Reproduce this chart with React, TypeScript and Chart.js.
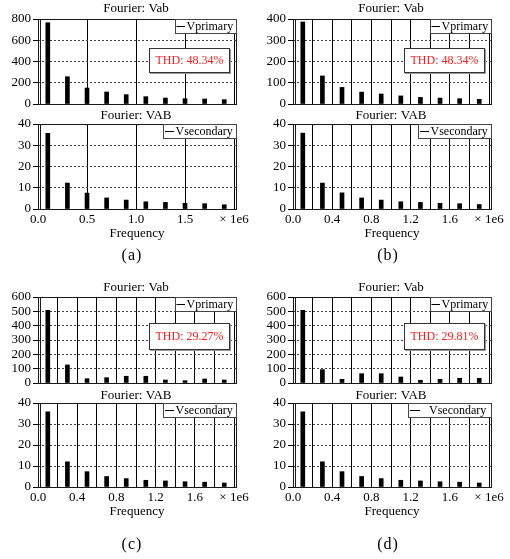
import React, { useEffect, useRef } from 'react';
import { Chart, registerables } from 'chart.js';

Chart.register(...registerables);

const FONT = '"Liberation Serif", "Times New Roman", serif';

// harmonic frequencies (Hz)
const FREQ = [0.1e6, 0.3e6, 0.5e6, 0.7e6, 0.9e6, 1.1e6, 1.3e6, 1.5e6, 1.7e6, 1.9e6];

// panel (a)
const A_PRIMARY = [765, 257, 150, 113, 88, 69, 56, 50, 47, 41];
const A_SECONDARY = [35.6, 12.2, 7.5, 5.2, 4.2, 3.4, 3.1, 2.7, 2.5, 2.0];
// panel (b)
const B_PRIMARY = [386, 132, 78, 56, 47, 38, 31, 28, 25, 22];
const B_SECONDARY = [35.7, 12.2, 7.6, 5.2, 4.2, 3.4, 3.1, 2.7, 2.5, 2.1];
// panel (c)
const C_PRIMARY = [507, 126, 30, 37, 47, 47, 21, 16, 28, 21];
const C_SECONDARY = [35.8, 12.0, 7.3, 5.0, 4.0, 3.2, 2.9, 2.5, 2.3, 1.9];
// panel (d)
const D_PRIMARY = [507, 93, 26, 65, 65, 42, 19, 26, 33, 33];
const D_SECONDARY = [35.8, 12.0, 7.3, 5.0, 4.0, 3.2, 2.9, 2.5, 2.3, 1.9];

// ticks
const X_TICKS_A = [0, 0.5e6, 1.0e6, 1.5e6, 2.0e6];
const X_LABELS_A = [0, 0.5e6, 1.0e6, 1.5e6];
const X_TICKS_FINE = [0, 0.2e6, 0.4e6, 0.6e6, 0.8e6, 1.0e6, 1.2e6, 1.4e6, 1.6e6, 1.8e6, 2.0e6];
const X_LABELS_FINE = [0, 0.4e6, 0.8e6, 1.2e6, 1.6e6];
const X_UNIT_TICK = 2.0e6;
const X_UNIT_LABEL = '× 1e6';
const X_MAX = 2.02e6;

const Y_TICKS_A = [0, 200, 400, 600, 800];
const Y_TICKS_B = [0, 100, 200, 300, 400];
const Y_TICKS_CD = [0, 100, 200, 300, 400, 500, 600];
const Y_TICKS_SEC = [0, 10, 20, 30, 40];

const TITLE_PRI = 'Fourier: Vab';
const TITLE_SEC = 'Fourier: VAB';
const LEGEND_PRI = 'Vprimary';
const LEGEND_SEC = 'Vsecondary';
const X_TITLE = 'Frequency';
const THD = ['THD: 48.34%', 'THD: 48.34%', 'THD: 29.27%', 'THD: 29.81%'];
const CAPTIONS = ['(a)', '(b)', '(c)', '(d)'];

type Sub = {
  l: number; t: number; r: number; b: number;
  values: number[]; yTicks: number[];
  xTicks: number[]; xLabels: number[]; showX: boolean;
  title: string; titleBase: number;
  legend: string; legendW: number; lineFrom: number; lineTo: number; textDx: number;
  thd?: { text: string; dx: number; dy: number; w: number; h: number };
  caption?: { text: string; x: number; base: number };
  label: string;
};

const W = 510;
const H = 559;
const Y_W = 34;
const X_H = 32;

function buildSubs(): Sub[] {
  const cols = [{ l: 38, r: 236 }, { l: 293, r: 491 }];
  const rows = [
    { pt: 19, pb: 104, st: 124, sb: 209, ptb: 12, stb: 119.3, cap: 259.5, thdDy: 29, thdH: 24 },
    { pt: 297, pb: 383, st: 403, sb: 487, ptb: 291.3, stb: 399, cap: 549, thdDy: 26, thdH: 26 },
  ];
  const prim = [A_PRIMARY, B_PRIMARY, C_PRIMARY, D_PRIMARY];
  const sec = [A_SECONDARY, B_SECONDARY, C_SECONDARY, D_SECONDARY];
  const yPri = [Y_TICKS_A, Y_TICKS_B, Y_TICKS_CD, Y_TICKS_CD];
  const capX = [132, 388, 132, 388];
  const subs: Sub[] = [];
  for (let i = 0; i < 4; i++) {
    const c = cols[i % 2];
    const rw = rows[Math.floor(i / 2)];
    const fine = i !== 0;
    const xTicks = fine ? X_TICKS_FINE : X_TICKS_A;
    const xLabels = fine ? X_LABELS_FINE : X_LABELS_A;
    subs.push({
      l: c.l, r: c.r, t: rw.pt, b: rw.pb,
      values: prim[i], yTicks: yPri[i], xTicks, xLabels, showX: false,
      title: TITLE_PRI, titleBase: rw.ptb,
      legend: LEGEND_PRI, legendW: 61, lineFrom: 1.5, lineTo: 10, textDx: 11.5,
      thd: { text: THD[i], dx: 87, dy: rw.thdDy, w: 80, h: rw.thdH },
      label: LEGEND_PRI,
    });
    const dWide = i === 3;
    subs.push({
      l: c.l, r: c.r, t: rw.st, b: rw.sb,
      values: sec[i], yTicks: Y_TICKS_SEC, xTicks, xLabels, showX: true,
      title: TITLE_SEC, titleBase: rw.stb,
      legend: LEGEND_SEC,
      legendW: dWide ? 83 : 73,
      lineFrom: 2, lineTo: dWide ? 12 : 11, textDx: dWide ? 21 : 12.5,
      caption: { text: CAPTIONS[i], x: capX[i], base: rw.cap },
      label: LEGEND_SEC,
    });
  }
  return subs;
}

function makeChart(canvas: HTMLCanvasElement, s: Sub) {
  const xH = s.showX ? X_H : 0;
  const yMax = s.yTicks[s.yTicks.length - 1];
  const deco = {
    id: 'deco',
    afterDraw(chart: any) {
      const ctx = chart.ctx as CanvasRenderingContext2D;
      const { left, top, right, bottom } = chart.chartArea;
      ctx.save();
      // frame
      ctx.strokeStyle = '#1a1a1a';
      ctx.lineWidth = 1;
      ctx.setLineDash([]);
      ctx.strokeRect(left + 0.5, top + 0.5, right - left, bottom - top);
      ctx.beginPath();
      ctx.moveTo(left + 2.5, top);
      ctx.lineTo(left + 2.5, bottom);
      ctx.stroke();
      // title
      ctx.fillStyle = '#000';
      ctx.font = `13px ${FONT}`;
      ctx.textAlign = 'center';
      ctx.textBaseline = 'alphabetic';
      ctx.fillText(s.title, (left + right) / 2 - 1, s.titleBase);
      // legend
      const lx = right - s.legendW;
      const ly = top;
      ctx.fillStyle = '#fff';
      ctx.fillRect(lx, ly, s.legendW, 14);
      ctx.strokeStyle = '#444';
      ctx.strokeRect(lx + 0.5, ly + 0.5, s.legendW, 14);
      ctx.strokeStyle = '#000';
      ctx.beginPath();
      ctx.moveTo(lx + s.lineFrom, ly + 7.5);
      ctx.lineTo(lx + s.lineTo, ly + 7.5);
      ctx.stroke();
      ctx.fillStyle = '#000';
      ctx.font = `12px ${FONT}`;
      ctx.textAlign = 'left';
      ctx.fillText(s.legend, lx + s.textDx, ly + 11);
      // THD box
      if (s.thd) {
        const bx = right - s.thd.dx;
        const by = top + s.thd.dy;
        ctx.fillStyle = '#999';
        ctx.fillRect(bx + 1, by + 1, s.thd.w + 1, s.thd.h + 1);
        ctx.fillStyle = '#fff';
        ctx.fillRect(bx, by, s.thd.w, s.thd.h);
        ctx.strokeStyle = '#333';
        ctx.strokeRect(bx + 0.5, by + 0.5, s.thd.w, s.thd.h);
        ctx.fillStyle = '#ff1a1a';
        ctx.font = `12px ${FONT}`;
        ctx.textAlign = 'center';
        ctx.textBaseline = 'middle';
        ctx.fillText(s.thd.text, bx + s.thd.w / 2 + 0.5, by + s.thd.h / 2 + 1);
      }
      // caption
      if (s.caption) {
        ctx.fillStyle = '#000';
        ctx.font = `16px ${FONT}`;
        (ctx as any).letterSpacing = '1px';
        ctx.textAlign = 'center';
        ctx.textBaseline = 'alphabetic';
        ctx.fillText(s.caption.text, s.caption.x, s.caption.base);
      }
      ctx.restore();
    },
  };

  return new Chart(canvas, {
    type: 'bar',
    data: {
      datasets: [
        {
          label: s.label,
          data: FREQ.map((x, i) => ({ x, y: s.values[i] })),
          backgroundColor: '#000',
          borderWidth: 0,
          barThickness: 4,
        } as any,
      ],
    },
    options: {
      responsive: false,
      animation: false,
      events: [],
      layout: {
        autoPadding: false,
        padding: { left: s.l - Y_W, top: s.t, right: W - s.r, bottom: H - s.b - xH },
      },
      plugins: {
        legend: { display: false },
        title: { display: false },
        tooltip: { enabled: false },
      },
      scales: {
        x: {
          type: 'linear',
          min: 0,
          max: X_MAX,
          offset: false,
          afterBuildTicks: (sc: any) => {
            sc.ticks = s.xTicks.map((v) => ({ value: v }));
          },
          afterFit: (sc: any) => {
            sc.height = xH;
          },
          ticks: {
            display: s.showX,
            autoSkip: false,
            maxRotation: 0,
            padding: 3,
            color: '#000',
            font: { family: FONT, size: 13 },
            callback: (v: any) => {
              const n = Number(v);
              if (n === X_UNIT_TICK) return X_UNIT_LABEL;
              if (s.xLabels.includes(n)) return (n / 1e6).toFixed(1);
              return '';
            },
          },
          grid: { color: '#000', lineWidth: 1, drawTicks: false, offset: false },
          border: { display: false },
          title: {
            display: s.showX,
            text: X_TITLE,
            color: '#000',
            font: { family: FONT, size: 13 },
            padding: 0,
          },
        },
        y: {
          type: 'linear',
          min: 0,
          max: yMax,
          afterBuildTicks: (sc: any) => {
            sc.ticks = s.yTicks.map((v) => ({ value: v }));
          },
          afterFit: (sc: any) => {
            sc.width = Y_W;
          },
          ticks: {
            autoSkip: false,
            padding: 2,
            color: '#000',
            font: { family: FONT, size: 13 },
            callback: (v: any) => String(v),
          },
          grid: { color: '#444', lineWidth: 1, drawTicks: true, tickLength: 5, tickColor: '#000' },
          border: { display: false, dash: [2, 2] },
        },
      },
    } as any,
    plugins: [deco],
  });
}

export default function App() {
  const refs = useRef<(HTMLCanvasElement | null)[]>([]);
  const subs = buildSubs();

  useEffect(() => {
    document.body.style.margin = '0';
    document.body.style.background = '#fff';
    const charts = subs.map((s, i) => makeChart(refs.current[i] as HTMLCanvasElement, s));
    return () => charts.forEach((c) => c.destroy());
  }, []);

  return (
    <div style={{ position: 'fixed', left: 0, top: 0, width: W, height: H, background: '#fff' }}>
      {subs.map((s, i) => (
        <canvas
          key={i}
          ref={(el) => {
            refs.current[i] = el;
          }}
          width={W}
          height={H}
          style={{ position: 'absolute', left: 0, top: 0, width: W, height: H }}
        />
      ))}
    </div>
  );
}
